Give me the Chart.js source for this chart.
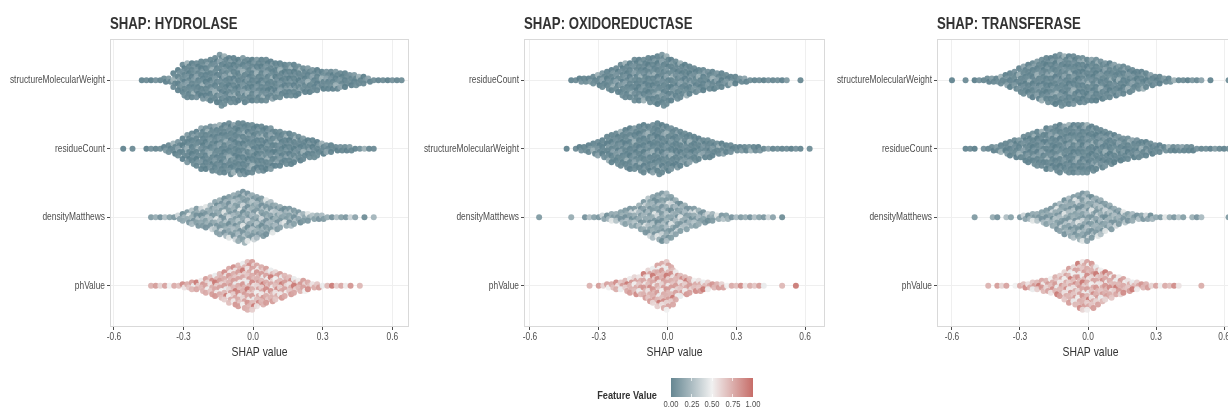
<!DOCTYPE html>
<html><head><meta charset="utf-8">
<script src="https://cdn.jsdelivr.net/npm/chart.js@4.4.1/dist/chart.umd.min.js"></script>
<style>
html,body{margin:0;padding:0;background:#fff;overflow:hidden;width:1228px;height:412px;}
#wrap{position:relative;width:1228px;height:412px;overflow:hidden;background:#fff;}
canvas{position:absolute;top:0;}
.lg{position:absolute;font-family:'Liberation Sans',Arial,sans-serif;color:#4d4d4d;white-space:nowrap;}
</style></head><body>
<div id="wrap">
<canvas id="c1" width="412" height="412" style="left:0px"></canvas>
<canvas id="c2" width="416" height="412" style="left:412px"></canvas>
<canvas id="c3" width="420" height="412" style="left:828px"></canvas>
<div class="lg" id="lgTitle" style="left:497px;width:160px;top:388px;text-align:right;font-weight:bold;font-size:11.5px;line-height:14px;color:#333;transform:scaleX(0.8);transform-origin:100% 50%;">Feature Value</div>
<div id="bar" style="position:absolute;left:671px;top:378px;width:82px;height:19px;"></div>
</div>
<script>
// ---------- DATA ----------
const binCenters = [-0.60,-0.58,-0.56,-0.54,-0.52,-0.50,-0.48,-0.46,-0.44,-0.42,
  -0.40,-0.38,-0.36,-0.34,-0.32,-0.30,-0.28,-0.26,-0.24,-0.22,
  -0.20,-0.18,-0.16,-0.14,-0.12,-0.10,-0.08,-0.06,-0.04,-0.02,
  0.00,0.02,0.04,0.06,0.08,0.10,0.12,0.14,0.16,0.18,
  0.20,0.22,0.24,0.26,0.28,0.30,0.32,0.34,0.36,0.38,
  0.40,0.42,0.44,0.46,0.48,0.50,0.52,0.54,0.56,0.58,
  0.60,0.62,0.64];

const panelTitles = ['SHAP: HYDROLASE','SHAP: OXIDOREDUCTASE','SHAP: TRANSFERASE'];
const hydrolaseFeatures = ['structureMolecularWeight','residueCount','densityMatthews','phValue'];
const oxidoreductaseFeatures = ['residueCount','structureMolecularWeight','densityMatthews','phValue'];
const transferaseFeatures = ['structureMolecularWeight','residueCount','densityMatthews','phValue'];
const xTicks = [-0.6,-0.3,0.0,0.3,0.6];
const legendTicks = [0.00,0.25,0.50,0.75,1.00];

// counts of observations per SHAP bin (bins = binCenters)
const hydSMW = [0,0,0,0,0,0,1,1,1,1, 1,2,2,5,7,10,11,11,11,12, 12,13,14,16,15,14,14,13,14,13, 13,13,13,13,12,11,11,10,10,10, 9,8,8,7,7,6,6,6,6,5, 5,4,4,3,3,2,1,1,1,1, 1,1,1];
const hydRC  = [0,0,1,0,1,0,0,1,1,1, 1,2,3,4,5,7,9,10,11,13, 13,14,14,15,15,16,15,16,16,15, 15,14,14,13,13,11,11,10,10,9, 8,7,6,6,5,4,3,3,2,2, 2,2,1,1,1,1,1,0,0,0, 0,0,0];
const hydDM  = [0,0,0,0,0,0,0,0,1,1, 1,1,1,1,2,3,4,5,6,6, 7,8,10,11,12,13,14,15,16,15, 14,13,12,11,10,8,7,6,6,5, 4,3,3,2,2,2,1,1,1,1, 1,1,1,0,1,0,1,0,0,0, 0,0,0];
const hydPH  = [0,0,0,0,0,0,0,0,1,1, 1,1,1,1,1,2,2,3,3,4, 5,6,7,8,9,11,12,13,14,15, 15,13,12,11,10,9,8,7,6,5, 4,4,3,2,2,1,1,1,1,1, 1,1,0,1,0,0,0,0,0,0, 0,0,0];

const oxiRC  = [0,0,0,0,0,0,0,0,0,1, 1,2,2,2,3,4,5,6,7,8, 10,11,11,13,13,13,14,14,15,16, 15,13,12,11,10,9,8,7,7,6, 6,5,5,4,3,3,2,2,1,1, 1,1,1,1,1,1,1,0,0,1, 0,0,0];
const oxiSMW = [0,0,0,0,0,0,0,0,1,0, 1,2,2,3,4,5,6,8,9,10, 11,12,13,13,14,15,14,15,16,15, 14,13,12,11,10,9,8,7,6,6, 5,4,4,3,3,2,2,2,2,2, 2,1,1,1,1,1,1,1,1,1, 0,1,0];
const oxiDM  = [0,0,1,0,0,0,0,0,0,1, 0,0,1,1,1,1,2,2,3,3, 4,5,6,6,8,10,12,13,14,15, 15,13,11,9,8,6,6,5,4,3, 3,2,2,2,1,1,1,1,1,1, 1,1,1,1,0,1,0,0,0,0, 0,0,0];
const oxiPH  = [0,0,0,0,0,0,0,0,0,0, 0,0,0,1,0,1,1,2,2,3, 3,4,5,6,6,8,10,11,13,14, 15,12,9,7,6,5,4,4,3,3, 2,2,2,1,1,1,1,1,1,1, 1,1,0,0,0,1,0,0,1,0, 0,0,0];

const traSMW = [1,0,0,1,0,1,1,1,2,2, 2,3,4,5,6,8,9,10,11,12, 13,14,14,15,16,15,15,15,14,14, 13,13,13,12,11,11,10,9,9,8, 7,6,6,5,4,3,3,2,2,1, 1,1,1,1,1,1,0,1,0,0, 0,1,0];
const traRC  = [0,0,0,1,1,1,0,1,1,2, 2,3,4,5,6,6,8,9,10,11, 11,13,13,14,15,14,15,15,15,15, 15,14,13,12,11,10,9,8,7,7, 6,6,5,5,4,3,3,2,2,2, 2,2,2,2,1,1,1,1,1,1, 1,1,0];
const traDM  = [0,0,0,0,0,1,0,0,0,1, 1,0,1,1,0,1,2,2,3,3, 4,5,6,8,9,11,12,13,14,15, 15,13,12,11,9,8,6,5,4,3, 3,2,2,2,2,1,1,1,1,1, 1,1,0,1,1,1,0,0,0,0, 0,1,0];
const traPH  = [0,0,0,0,0,0,0,0,1,0, 1,1,1,0,1,1,2,2,3,3, 4,4,5,6,7,9,11,12,14,15, 15,14,12,10,9,8,6,6,5,4, 3,3,2,2,1,1,1,1,1,1, 1,0,0,0,0,1,0,0,0,0, 0,0,0];

// normalised feature values observed in each kind of row (cycled over the points)
const featLow = [0.02,0.05,0.00,0.08,0.03,0.06,0.01,0.12,0.04,0.02,0.07,0.22,0.03,0.05,0.00,0.10,0.04,0.16,0.02,0.06];
const featDM  = [0.12,0.20,0.08,0.28,0.15,0.10,0.38,0.16,0.06,0.24,0.18,0.12,0.45,0.20,0.10,0.30,0.14,0.22,0.09,0.26];
const featPH  = [0.72,0.80,0.60,0.78,0.50,0.75,0.68,0.86,0.55,0.74,0.65,0.80,0.48,0.70,0.92,0.62,0.76,0.52,0.82,0.70];

// ---------- STYLE / LAYOUT ----------
const FONT = "'Liberation Sans',Arial,sans-serif";
const SX = 0.8; // horizontal condensation of all text
Chart.defaults.font.family = FONT;
const LOW = [92,127,139], MID = [240,240,240], HIGH = [195,100,95];
function colorFor(v){
  let a,b,t;
  if(v<=0.5){a=LOW;b=MID;t=v/0.5;}else{a=MID;b=HIGH;t=(v-0.5)/0.5;}
  const c=a.map((x,i)=>Math.round(x+(b[i]-x)*t));
  return 'rgba('+c[0]+','+c[1]+','+c[2]+',0.94)';
}
const STEP = 3.4/68.57; // vertical stacking step (category units)

function swarm(counts,row,feats){
  const data=[],cols=[];let c=0;
  counts.forEach((n,i)=>{
    for(let k=0;k<n;k++){
      const off=(k-(n-1)/2)*STEP;
      const dx = n>1 ? ((k%2)?0.004:-0.004) : 0;
      data.push({x:binCenters[i]+dx,y:row+off});
      cols.push(colorFor(feats[c%feats.length]));c++;
    }
  });
  return {data,pointBackgroundColor:cols,pointBorderWidth:0,pointRadius:3.0,pointHoverRadius:3.0,showLine:false};
}

function condense(canvas){
  const ctx=canvas.getContext('2d');
  const orig=ctx.fillText.bind(ctx);
  ctx.fillText=function(t,x,y,mw){
    ctx.save();ctx.translate(x,y);ctx.scale(SX,1);
    if(mw===undefined||mw===null) orig(t,0,0); else orig(t,0,0,mw/SX);
    ctx.restore();
  };
}

const titlePlugin={id:'ptitle',afterDraw(chart){
  const ctx=chart.ctx;ctx.save();ctx.font='bold 16.5px '+FONT;ctx.fillStyle='#333';
  ctx.textBaseline='alphabetic';ctx.textAlign='left';
  ctx.fillText(chart.options.plugins.ptitle.text,chart.chartArea.left,29);ctx.restore();
}};
const borderPlugin={id:'pborder',afterDatasetsDraw(chart){
  const a=chart.chartArea,ctx=chart.ctx;ctx.save();ctx.strokeStyle='#d9d9d9';ctx.lineWidth=1;
  ctx.strokeRect(a.left+0.5,a.top+0.5,a.right-a.left-1,a.bottom-a.top-1);ctx.restore();
}};

function makePanel(id,title,labels,rows,yW,padR,xmin,xmax){
  const cv=document.getElementById(id);
  condense(cv);
  const datasets=[swarm(rows[0],1,featLow),swarm(rows[1],2,featLow),swarm(rows[2],3,featDM),swarm(rows[3],4,featPH)];
  new Chart(cv,{
    type:'scatter',
    data:{datasets},
    plugins:[titlePlugin,borderPlugin],
    options:{
      responsive:false,animation:false,devicePixelRatio:1,
      layout:{padding:{top:39,right:padR,bottom:52,left:0}},
      plugins:{legend:{display:false},tooltip:{enabled:false},ptitle:{text:title}},
      scales:{
        x:{type:'linear',min:xmin,max:xmax,
          afterBuildTicks:s=>{s.ticks=xTicks.map(v=>({value:v}));},
          afterFit:s=>{s.height=33;},
          ticks:{callback:v=>Number(v).toFixed(1),color:'#4d4d4d',font:{size:10.5},padding:1,autoSkip:false,maxRotation:0},
          grid:{color:'#efefef',tickColor:'#4d4d4d',tickLength:3,lineWidth:1},
          border:{display:false},
          title:{display:true,text:'SHAP value',color:'#333',font:{size:13},padding:{top:0,bottom:0}}},
        y:{type:'linear',min:0.4,max:4.6,reverse:true,
          afterBuildTicks:s=>{s.ticks=[1,2,3,4].map(v=>({value:v}));},
          afterFit:s=>{s.width=yW;},
          ticks:{callback:v=>labels[Math.round(v)-1],color:'#4d4d4d',font:{size:10.5},padding:2,autoSkip:false},
          grid:{color:'#efefef',tickColor:'#4d4d4d',tickLength:3,lineWidth:1},
          border:{display:false}}
      }
    }
  });
}

makePanel('c1',panelTitles[0],hydrolaseFeatures,[hydSMW,hydRC,hydDM,hydPH],110,3,-0.617,0.672);
makePanel('c2',panelTitles[1],oxidoreductaseFeatures,[oxiRC,oxiSMW,oxiDM,oxiPH],112,3,-0.626,0.687);
makePanel('c3',panelTitles[2],transferaseFeatures,[traSMW,traRC,traDM,traPH],109,4,-0.666,0.688);

// ---------- LEGEND (colour bar) ----------
const wrap=document.getElementById('wrap');
const bar=document.getElementById('bar');
bar.style.background='linear-gradient(to right, '+colorFor(0)+', '+colorFor(0.5)+', '+colorFor(1)+')';
legendTicks.forEach(v=>{
  const x=671+v*82;
  if(v>0&&v<1){
    ['378px','394px'].forEach(t=>{const m=document.createElement('div');
      m.style.cssText='position:absolute;left:'+(x-0.5)+'px;top:'+t+';width:1px;height:3px;background:rgba(255,255,255,0.7)';
      wrap.appendChild(m);});
  }
  const d=document.createElement('div');d.className='lg';d.textContent=v.toFixed(2);
  d.style.cssText+='left:'+(x-20)+'px;width:40px;text-align:center;top:398px;font-size:9.5px;line-height:12px;transform:scaleX(0.8);transform-origin:50% 50%;';
  wrap.appendChild(d);
});
</script>
</body></html>
